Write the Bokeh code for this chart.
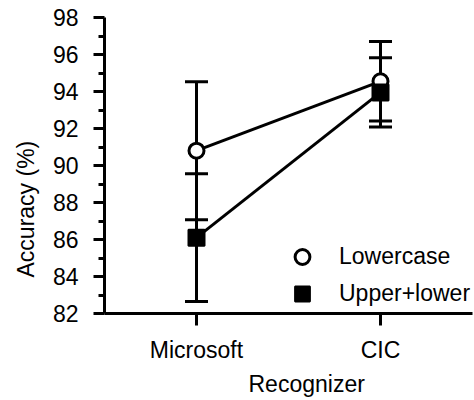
from bokeh.embed import file_html
from bokeh.models import (ColumnDataSource, FixedTicker, Legend, LegendItem,
                          Range1d, TeeHead, Title, Whisker)
from bokeh.plotting import figure
from bokeh.resources import INLINE

# Recognition accuracy by recognizer, mean and error-bar half-width (%)
recognizers = ["Microsoft", "CIC"]
lowercase_mean = [90.8, 94.55]
lowercase_err = [3.73, 2.15]
mixedcase_mean = [86.1, 93.95]
mixedcase_err = [3.45, 1.87]
series_names = ["Lowercase", "Upper+lower"]
y_major_ticks = [82, 84, 86, 88, 90, 92, 94, 96, 98]
y_minor_ticks = [83, 85, 87, 89, 91, 93, 95, 97]
x_title = "Recognizer"
y_title = "Accuracy (%)"

FONT = "Liberation Sans"
FS = "23px"

xs = list(range(len(recognizers)))


def make_source(mean, err):
    return ColumnDataSource(dict(
        x=xs,
        y=mean,
        upper=[m + e for m, e in zip(mean, err)],
        lower=[m - e for m, e in zip(mean, err)],
    ))


src_lower = make_source(lowercase_mean, lowercase_err)
src_mixed = make_source(mixedcase_mean, mixedcase_err)

p = figure(
    width=474, height=400,
    x_range=Range1d(-0.5, len(recognizers) - 0.5),
    y_range=Range1d(y_major_ticks[0], y_major_ticks[-1]),
    output_backend="svg", toolbar_location=None,
    min_border_left=104, min_border_right=2,
    min_border_top=17, min_border_bottom=87,
)
p.outline_line_color = None
p.grid.visible = False
p.background_fill_color = "white"
p.border_fill_color = "white"

# Error bars
for src in (src_lower, src_mixed):
    w = Whisker(
        source=src, base="x", upper="upper", lower="lower",
        line_color="black", line_width=3,
        upper_head=TeeHead(size=23, line_width=3, line_color="black"),
        lower_head=TeeHead(size=23, line_width=3, line_color="black"),
    )
    p.add_layout(w)

# Connecting lines
p.line("x", "y", source=src_lower, line_color="black", line_width=3)
p.line("x", "y", source=src_mixed, line_color="black", line_width=3)

# Markers
r_lower = p.scatter("x", "y", source=src_lower, marker="circle", size=15,
                    fill_color="white", line_color="black", line_width=3)
r_mixed = p.scatter("x", "y", source=src_mixed, marker="square", size=16,
                    fill_color="black", line_color="black", line_width=2)

legend = Legend(
    items=[LegendItem(label=series_names[0], renderers=[r_lower]),
           LegendItem(label=series_names[1], renderers=[r_mixed])],
    location=(178, 1),
    glyph_width=40, glyph_height=37, spacing=0, padding=0, margin=0,
    label_standoff=17, label_text_font=FONT, label_text_font_size=FS,
    label_text_color="black", border_line_color=None,
    background_fill_alpha=0,
)
p.add_layout(legend)

# Axes
xa = p.xaxis[0]
xa.ticker = FixedTicker(ticks=xs)
xa.major_label_overrides = {i: name for i, name in enumerate(recognizers)}
xa.minor_tick_line_color = None
xa.major_tick_in = 0
xa.major_tick_out = 12
xa.major_label_standoff = 11

ya = p.yaxis[0]
ya.ticker = FixedTicker(ticks=y_major_ticks, minor_ticks=y_minor_ticks)
ya.major_tick_in = 0
ya.major_tick_out = 11
ya.minor_tick_in = 0
ya.minor_tick_out = 6
ya.major_label_standoff = 15

for ax in (xa, ya):
    ax.axis_line_width = 3
    ax.axis_line_color = "black"
    ax.major_tick_line_width = 3
    ax.major_tick_line_color = "black"
    ax.minor_tick_line_width = 3
    ax.major_label_text_font = FONT
    ax.major_label_text_font_size = FS
    ax.major_label_text_color = "black"

# Axis titles as side titles, anchored from the frame's lower-left corner
p.add_layout(Title(text=y_title, align="left", offset=36, standoff=18,
                   vertical_align="top",
                   text_font=FONT, text_font_size=FS, text_font_style="normal",
                   text_color="black"), "left")
p.add_layout(Title(text=x_title, align="left", offset=144, standoff=7,
                   text_font=FONT, text_font_size=FS, text_font_style="normal",
                   text_color="black"), "below")

open("out.html", "w").write(file_html(p, INLINE))
